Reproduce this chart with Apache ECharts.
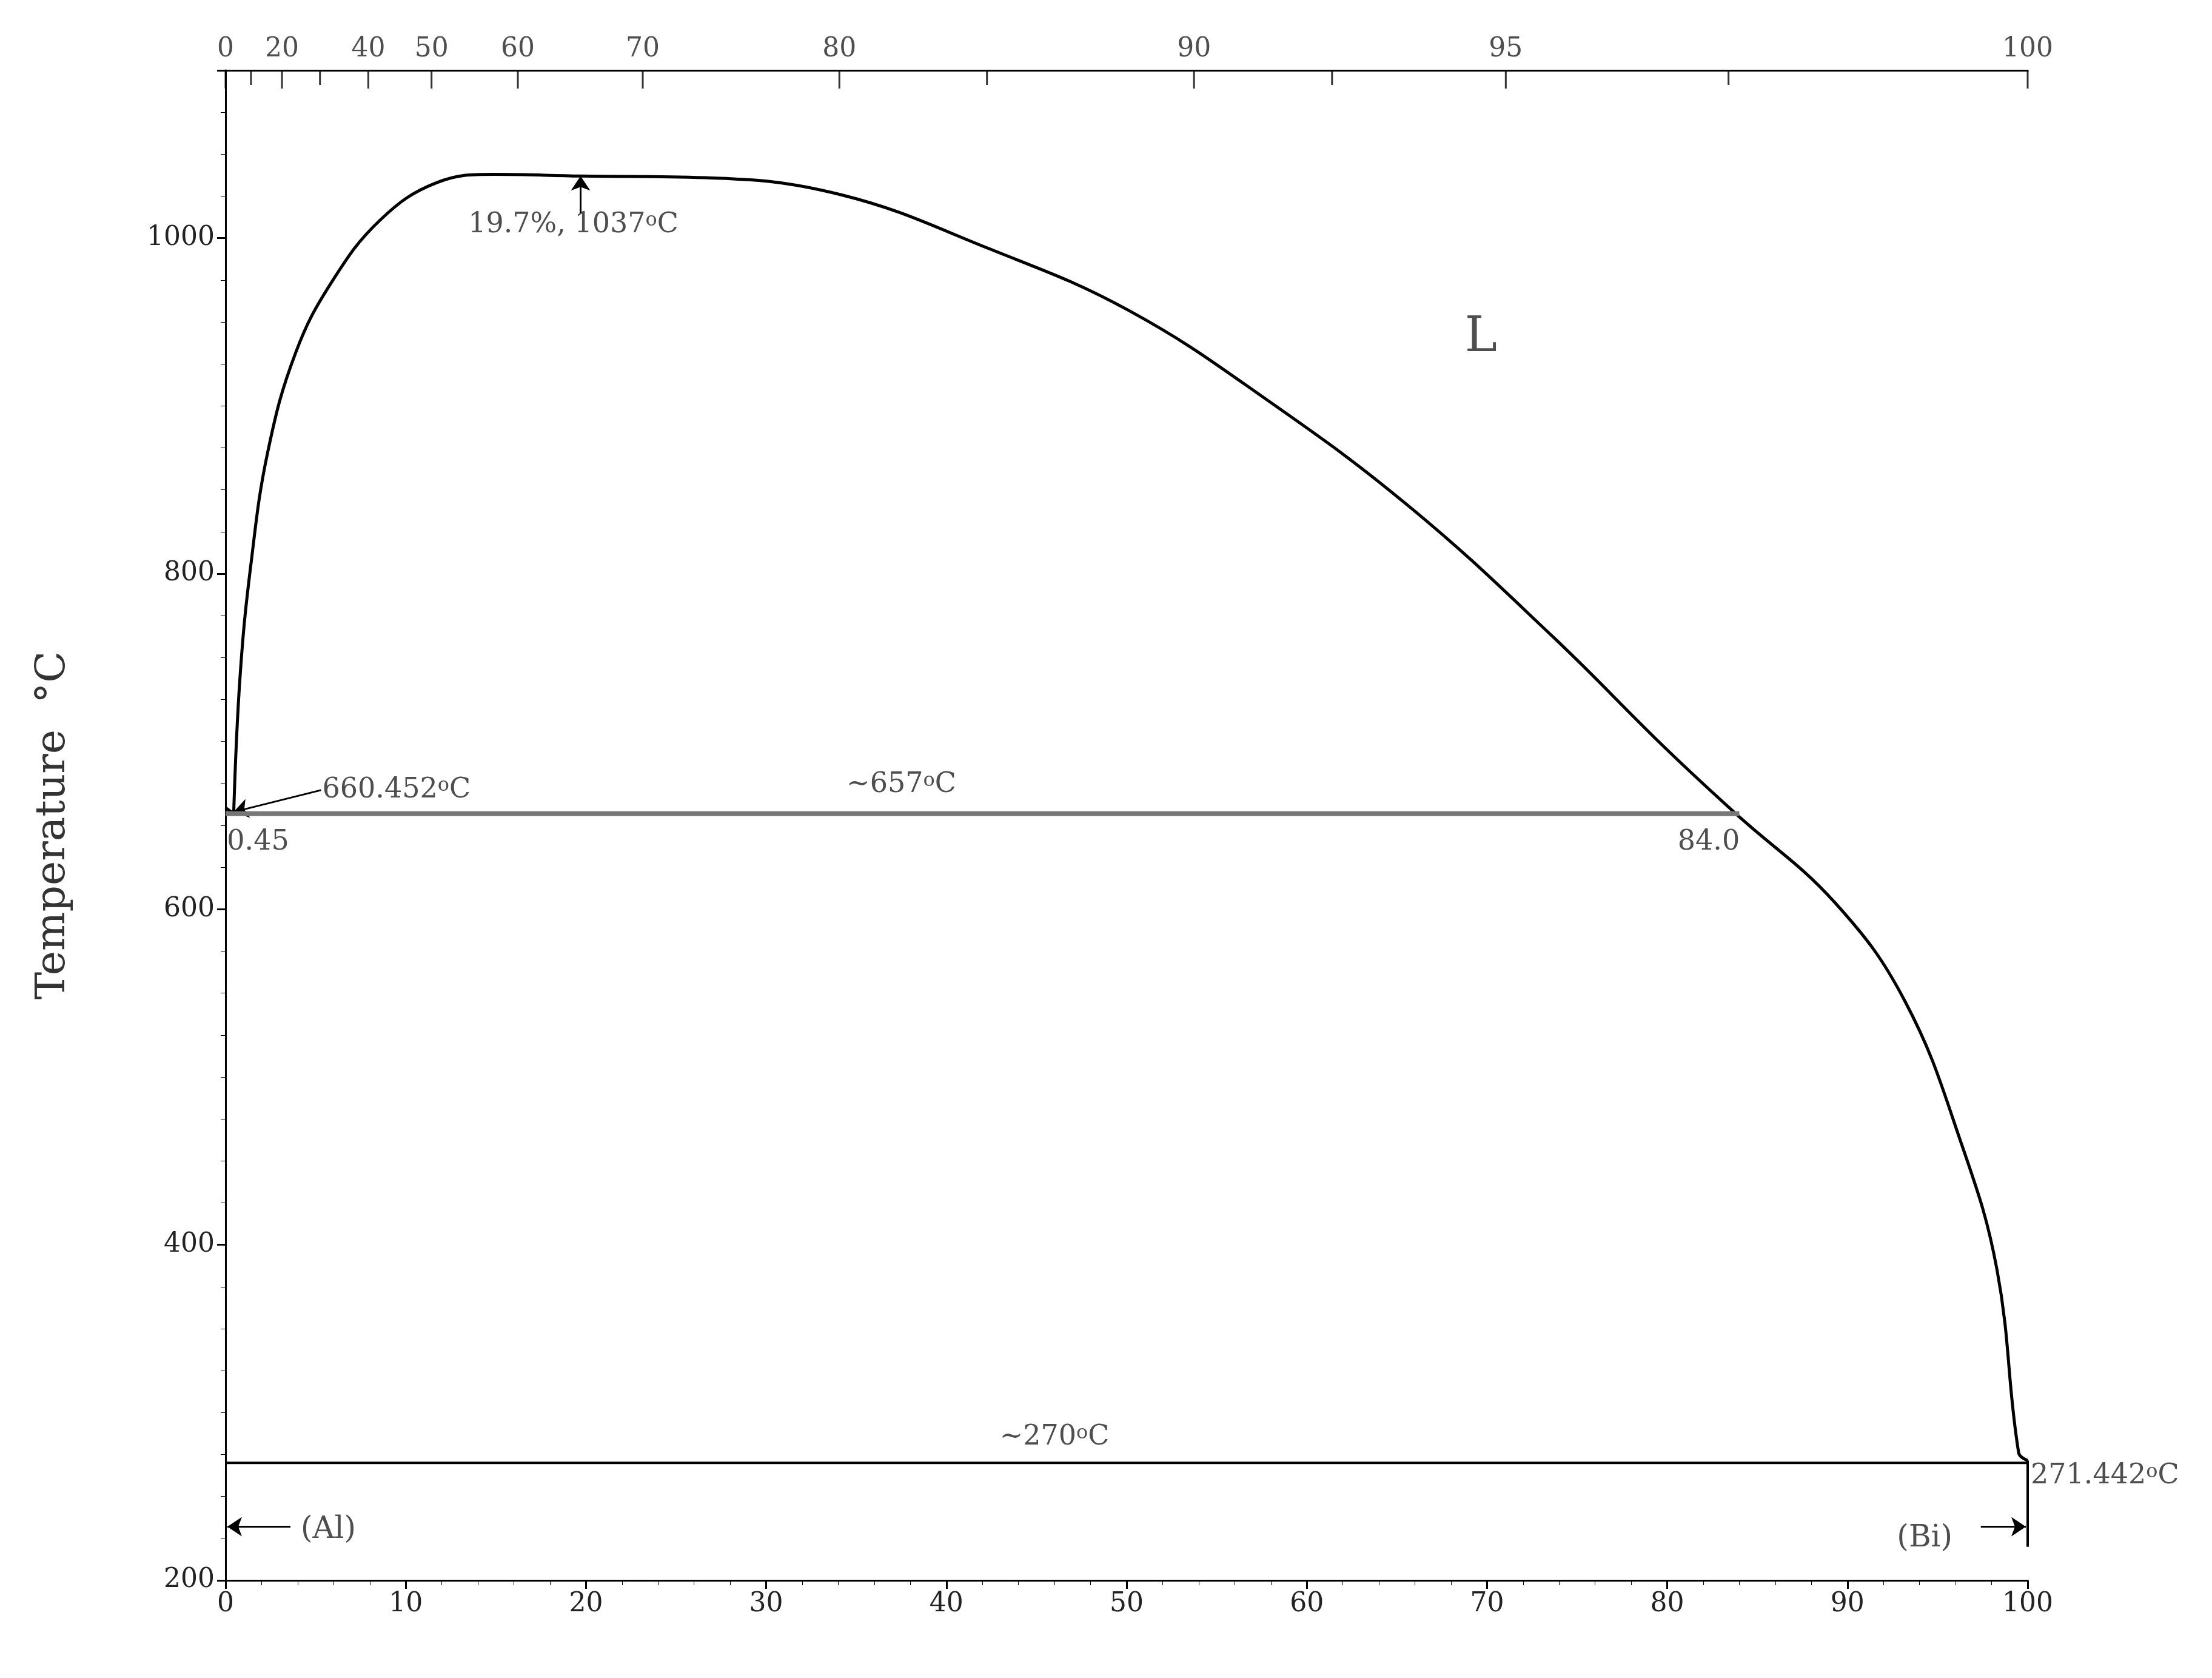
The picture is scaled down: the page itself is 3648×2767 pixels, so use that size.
<!DOCTYPE html>
<html><head><meta charset="utf-8">
<script src="https://cdn.jsdelivr.net/npm/echarts@6/dist/echarts.min.js"></script>
<style>html,body{margin:0;background:#fff}#c{width:3648px;height:2767px}</style>
</head><body><div id="c"></div>
<script>
const liquidus = [[0.45,657],[0.8,738],[1.4,805],[2.35,873],[3.9,932],[5.9,974],[8.6,1011],[11.7,1033],[14.9,1038],[19.7,1037],[26.6,1036],[34.1,1026],[42.3,994],[50.1,957],[58,902],[65.8,839],[73.6,763],[79.9,696],[83.8,657],[89.3,604],[93.2,545],[96.3,461],[98.3,385],[99.5,276],[100,271.442]];
const alLiquidus = [[0,660.452],[0.45,657]];
const monotectic = [[0,657],[84.0,657]];
const eutectic = [[0,270],[100,270]];
const biEdge = [[100,220],[100,271.442]];
// top axis: weight % Bi labels placed at atomic % positions
const topMajorWt = ['0','20','40','50','60','70','80','90','95','100'];
const topMajorAt = [0,3.13,7.92,11.43,16.22,23.15,34.06,53.74,71.04,100];
const topMinorAt = [1.41,5.24,42.25,61.4,83.4];
const F = 'DejaVu Serif';
const sup = {s:{fontSize:32,verticalAlign:'top',lineHeight:24,fontFamily:F,color:'#222'}};
function txt(x,y,t,pos,fs){return {value:[x,y],label:{show:true,formatter:t,position:pos||'right',fontSize:fs||46,fontFamily:F,color:'#222',rich:sup}};}
const labels = [
  txt(19.3,1018,'19.7%, 1037{s|o}C','bottom'),
  txt(5.2,671,'660.452{s|o}C','right'),
  txt(37.5,664,'~657{s|o}C','top'),
  txt(1.8,650,'0.45','bottom'),
  txt(82.3,650,'84.0','bottom'),
  txt(46,275,'~270{s|o}C','top'),
  txt(100,262,'271.442{s|o}C','right'),
  txt(4,230,'(Al)','right',50),
  txt(96,225,'(Bi)','left',50),
  txt(68.6,940,'L','right',80)
];
const arrows = [
  {coords:[[5.3,671],[0.45,658]]},
  {coords:[[19.7,1015],[19.7,1037]]},
  {coords:[[3.6,232],[0.1,232]]},
  {coords:[[97.4,232],[99.9,232]]}
];
const chart = echarts.init(document.getElementById('c'));
const axTxt = {fontSize:44,fontFamily:F,color:'#222'};
chart.setOption({
  animation:false,
  grid:{left:372,right:304,top:116,bottom:161},
  xAxis:[
    {type:'value',min:0,max:100,interval:10,position:'bottom',
     axisLine:{lineStyle:{color:'#000',width:3}},axisTick:{length:14,lineStyle:{width:3}},
     minorTick:{show:true,splitNumber:5,length:8},splitLine:{show:false},
     axisLabel:Object.assign({margin:18},axTxt)},
    {type:'value',min:0,max:100,position:'top',axisLine:{lineStyle:{color:'#000',width:3}},
     axisTick:{show:false},axisLabel:{show:false},splitLine:{show:false}}
  ],
  yAxis:[
    {type:'value',min:200,max:1100,interval:200,name:'Temperature  °C',nameLocation:'middle',nameGap:250,
     nameTextStyle:{fontSize:68,fontFamily:F,color:'#333'},
     axisLine:{lineStyle:{color:'#000',width:3}},axisTick:{length:14,lineStyle:{width:3}},
     minorTick:{show:true,splitNumber:8,length:8},splitLine:{show:false},
     axisLabel:Object.assign({margin:18,showMaxLabel:false,formatter:v=>String(v)},axTxt)},
    {type:'value',min:200,max:1100,interval:200,position:'right',
     axisLine:{show:true,lineStyle:{color:'#000',width:3}},axisTick:{inside:true,length:14,lineStyle:{width:3}},
     minorTick:{show:true,splitNumber:8,length:8},splitLine:{show:false},axisLabel:{show:false}}
  ],
  series:[
    {type:'line',data:liquidus,smooth:0.4,symbol:'none',lineStyle:{color:'#000',width:5}},
    {type:'line',data:alLiquidus,symbol:'none',lineStyle:{color:'#000',width:5}},
    {type:'line',data:monotectic,symbol:'none',lineStyle:{color:'#777',width:8}},
    {type:'line',data:eutectic,symbol:'none',lineStyle:{color:'#000',width:4}},
    {type:'line',data:biEdge,symbol:'none',lineStyle:{color:'#000',width:4}},
    {type:'lines',coordinateSystem:'cartesian2d',data:arrows,symbol:['none','arrow'],symbolSize:24,
     lineStyle:{color:'#000',width:3,opacity:1}},
    {type:'scatter',data:labels,symbolSize:0,silent:true},
    {type:'scatter',xAxisIndex:1,data:topMajorAt.map((x,i)=>({value:[x,1100],label:{show:true,formatter:topMajorWt[i],position:'top',distance:12,fontSize:44,fontFamily:F,color:'#222'}})),
     symbol:'rect',symbolSize:[3,30],symbolOffset:[0,15],itemStyle:{color:'#000'}},
    {type:'scatter',xAxisIndex:1,data:topMinorAt.map(x=>[x,1100]),symbol:'rect',symbolSize:[3,24],symbolOffset:[0,12],itemStyle:{color:'#000'}}
  ]
});
</script></body></html>
